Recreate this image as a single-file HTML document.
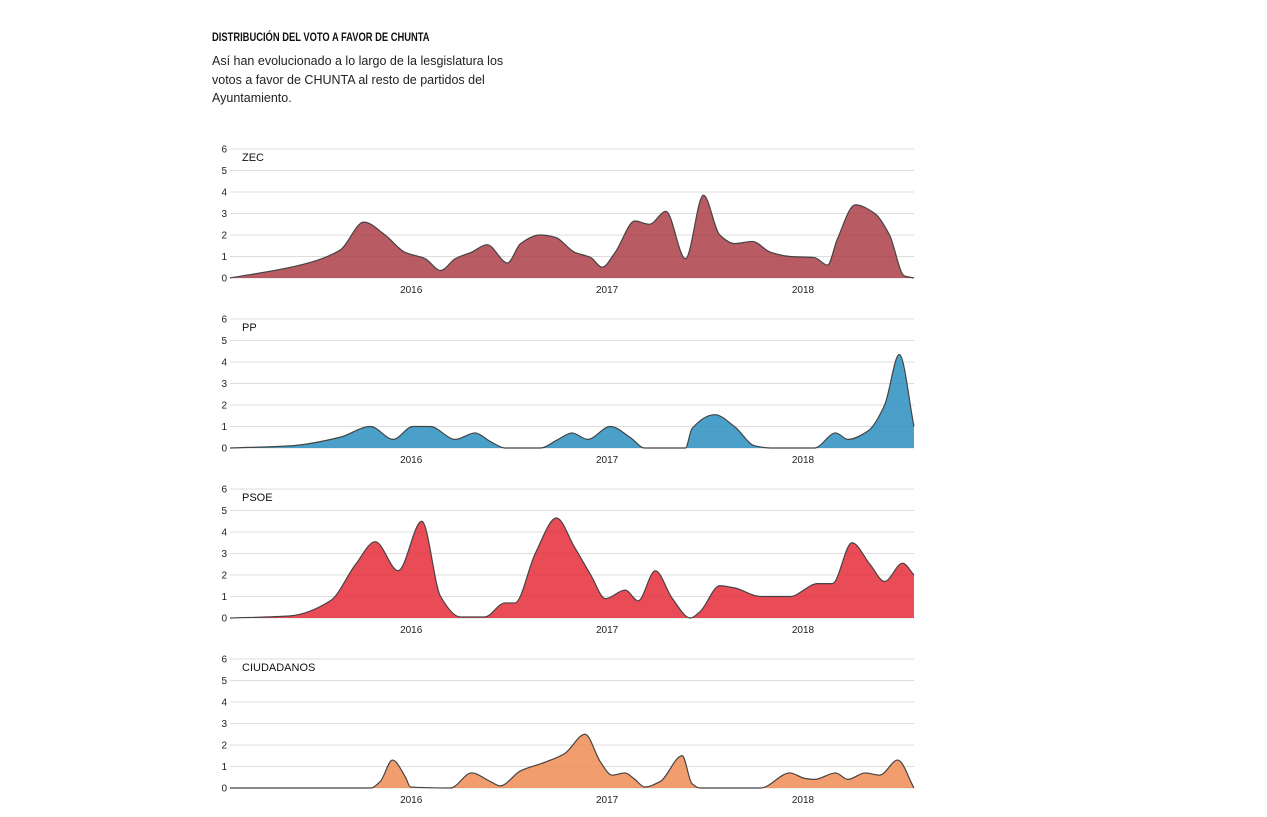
<!DOCTYPE html>
<html><head><meta charset="utf-8">
<style>
html,body{margin:0;padding:0;background:#fff;width:1267px;height:817px;overflow:hidden;font-family:"Liberation Sans",sans-serif;}
#title{position:absolute;left:212px;top:30px;font-weight:bold;font-size:12px;color:#111;transform:scaleX(0.78);transform-origin:left top;letter-spacing:0px;white-space:nowrap;}
#sub{position:absolute;left:212px;top:52px;width:300px;font-size:12.5px;line-height:18.5px;color:#222;}
svg{position:absolute;left:0;top:0;}
</style></head><body>
<div id="title">DISTRIBUCIÓN DEL VOTO A FAVOR DE CHUNTA</div>
<div id="sub">Así han evolucionado a lo largo de la lesgislatura los votos a favor de CHUNTA al resto de partidos del Ayuntamiento.</div>
<svg id="chart" width="1267" height="817"></svg>
<script>
// months relative to Jan 2016
const zecMonths=[-11.1,-6.8,-4.35,-2.9,-1.6,-0.4,0.85,1.8,2.7,3.7,4.65,5.9,6.7,7.9,8.8,10.0,11.0,11.7,12.5,13.7,14.6,15.6,16.8,17.9,18.9,19.8,20.9,22.0,23.2,24.7,25.5,26.1,27.2,28.4,29.3,30.2,30.8];
const zecValues=[0,0.6,1.3,2.6,2.0,1.2,0.9,0.35,0.9,1.2,1.55,0.7,1.6,2.0,1.9,1.2,0.95,0.5,1.2,2.65,2.5,3.1,0.9,3.85,2.0,1.6,1.7,1.2,1.0,0.95,0.6,1.8,3.4,3.0,2.0,0.1,0];
const ppMonths=[-11.1,-7.4,-4.35,-2.5,-1.1,0.1,1.15,2.7,3.9,4.85,5.75,7.9,9.0,9.85,10.8,12.2,13.4,14.3,16.8,17.2,18.6,19.8,21.05,22.0,24.7,26.0,26.75,28.0,29.0,29.9,30.8];
const ppValues=[0,0.1,0.5,1.0,0.4,1.0,1.0,0.4,0.7,0.3,0,0,0.4,0.7,0.4,1.0,0.5,0,0,0.9,1.55,1.0,0.1,0,0,0.7,0.4,0.8,2.0,4.35,1.0];
const psoeMonths=[-11.1,-7.4,-4.95,-3.4,-2.2,-0.8,0.65,1.8,3.0,4.5,5.75,6.35,7.6,8.9,10.0,11.0,11.9,13.1,13.9,14.95,16.0,17.1,17.7,18.9,19.8,21.4,23.2,24.9,25.8,27.0,28.1,29.0,30.1,30.8];
const psoeValues=[0,0.1,0.8,2.5,3.55,2.2,4.5,1.0,0.05,0.05,0.7,0.7,3.0,4.65,3.3,2.0,0.9,1.3,0.8,2.2,0.9,0,0.3,1.5,1.4,1.0,1.0,1.6,1.6,3.5,2.5,1.7,2.55,2.0];
const cMonths=[-11.1,-2.5,-1.9,-1.15,-0.35,-0.05,2.4,3.7,4.85,5.45,6.7,8.2,9.4,10.65,11.6,12.3,13.1,13.7,14.3,15.25,16.6,17.2,17.7,21.4,23.2,24.1,24.7,26.0,26.75,27.8,28.7,29.8,30.8];
const cValues=[0,0,0.3,1.3,0.5,0.05,0,0.7,0.3,0.1,0.8,1.2,1.6,2.5,1.2,0.6,0.7,0.4,0.05,0.3,1.5,0.2,0,0,0.7,0.45,0.4,0.7,0.4,0.7,0.6,1.3,0];
const yTicks=[0,1,2,3,4,5,6];
const yearTicks=[2016,2017,2018];
const panels=[
 {name:'ZEC',m:zecMonths,v:zecValues,fill:'#a9373f',op:0.82,base:278},
 {name:'PP',m:ppMonths,v:ppValues,fill:'#2b8fc0',op:0.85,base:448},
 {name:'PSOE',m:psoeMonths,v:psoeValues,fill:'#e52b39',op:0.85,base:618},
 {name:'CIUDADANOS',m:cMonths,v:cValues,fill:'#f08c55',op:0.85,base:788}
];
const X0=230,X1=914,M0=-11.1,M1=30.8;
const xs=m=>X0+(m-M0)/(M1-M0)*(X1-X0);
const NS='http://www.w3.org/2000/svg';
const svg=document.getElementById('chart');
function mk(t,a,p){const e=document.createElementNS(NS,t);for(const k in a)e.setAttribute(k,a[k]);(p||svg).appendChild(e);return e;}
function monotone(px,py){
 const n=px.length,d=[],t=new Array(n);
 for(let i=0;i<n-1;i++)d.push((py[i+1]-py[i])/(px[i+1]-px[i]));
 t[0]=d[0];t[n-1]=d[n-2];
 for(let i=1;i<n-1;i++){ if(d[i-1]*d[i]<=0)t[i]=0; else{const h0=px[i]-px[i-1],h1=px[i+1]-px[i];t[i]=3*(h0+h1)/((2*h1+h0)/d[i-1]+(h1+2*h0)/d[i]);}}
 let s='M'+px[0]+','+py[0];
 for(let i=0;i<n-1;i++){const h=(px[i+1]-px[i])/3;s+=' C'+(px[i]+h)+','+(py[i]+t[i]*h)+' '+(px[i+1]-h)+','+(py[i+1]-t[i+1]*h)+' '+px[i+1]+','+py[i+1];}
 return s;
}
panels.forEach(p=>{
 const g=mk('g',{});
 
 
 const ys=v=>p.base-v*21.5;
 yTicks.forEach(t=>{
  const l=mk('line',{x1:X0,x2:X1,y1:ys(t),y2:ys(t),stroke:'#ddd','stroke-width':1},g);
  
  
  const tx=mk('text',{x:227,y:ys(t)+3.5,'text-anchor':'end','font-size':'10',fill:'#222'},g);
  
  
  tx.textContent=t;
 });
 const px=p.m.map(xs),py=p.v.map(ys);
 const d=monotone(px,py);
 const a=mk('path',{d:d+' L'+px[px.length-1]+','+p.base+' L'+px[0]+','+p.base+'Z',fill:p.fill,'fill-opacity':p.op},g);
 
 
 const ln=mk('path',{d:d,fill:'none',stroke:'#444','stroke-width':1.2},g);
 
 
 yearTicks.forEach(y=>{
  const tx=mk('text',{x:xs((y-2016)*12),y:p.base+15,'text-anchor':'middle','font-size':'10',fill:'#222'},g);
  
  
  tx.textContent=y;
 });
 const lb=mk('text',{x:242,y:ys(6)+12,'font-size':'11',fill:'#111'},g);
 
 
 lb.textContent=p.name;
});
</script>
</body></html>
